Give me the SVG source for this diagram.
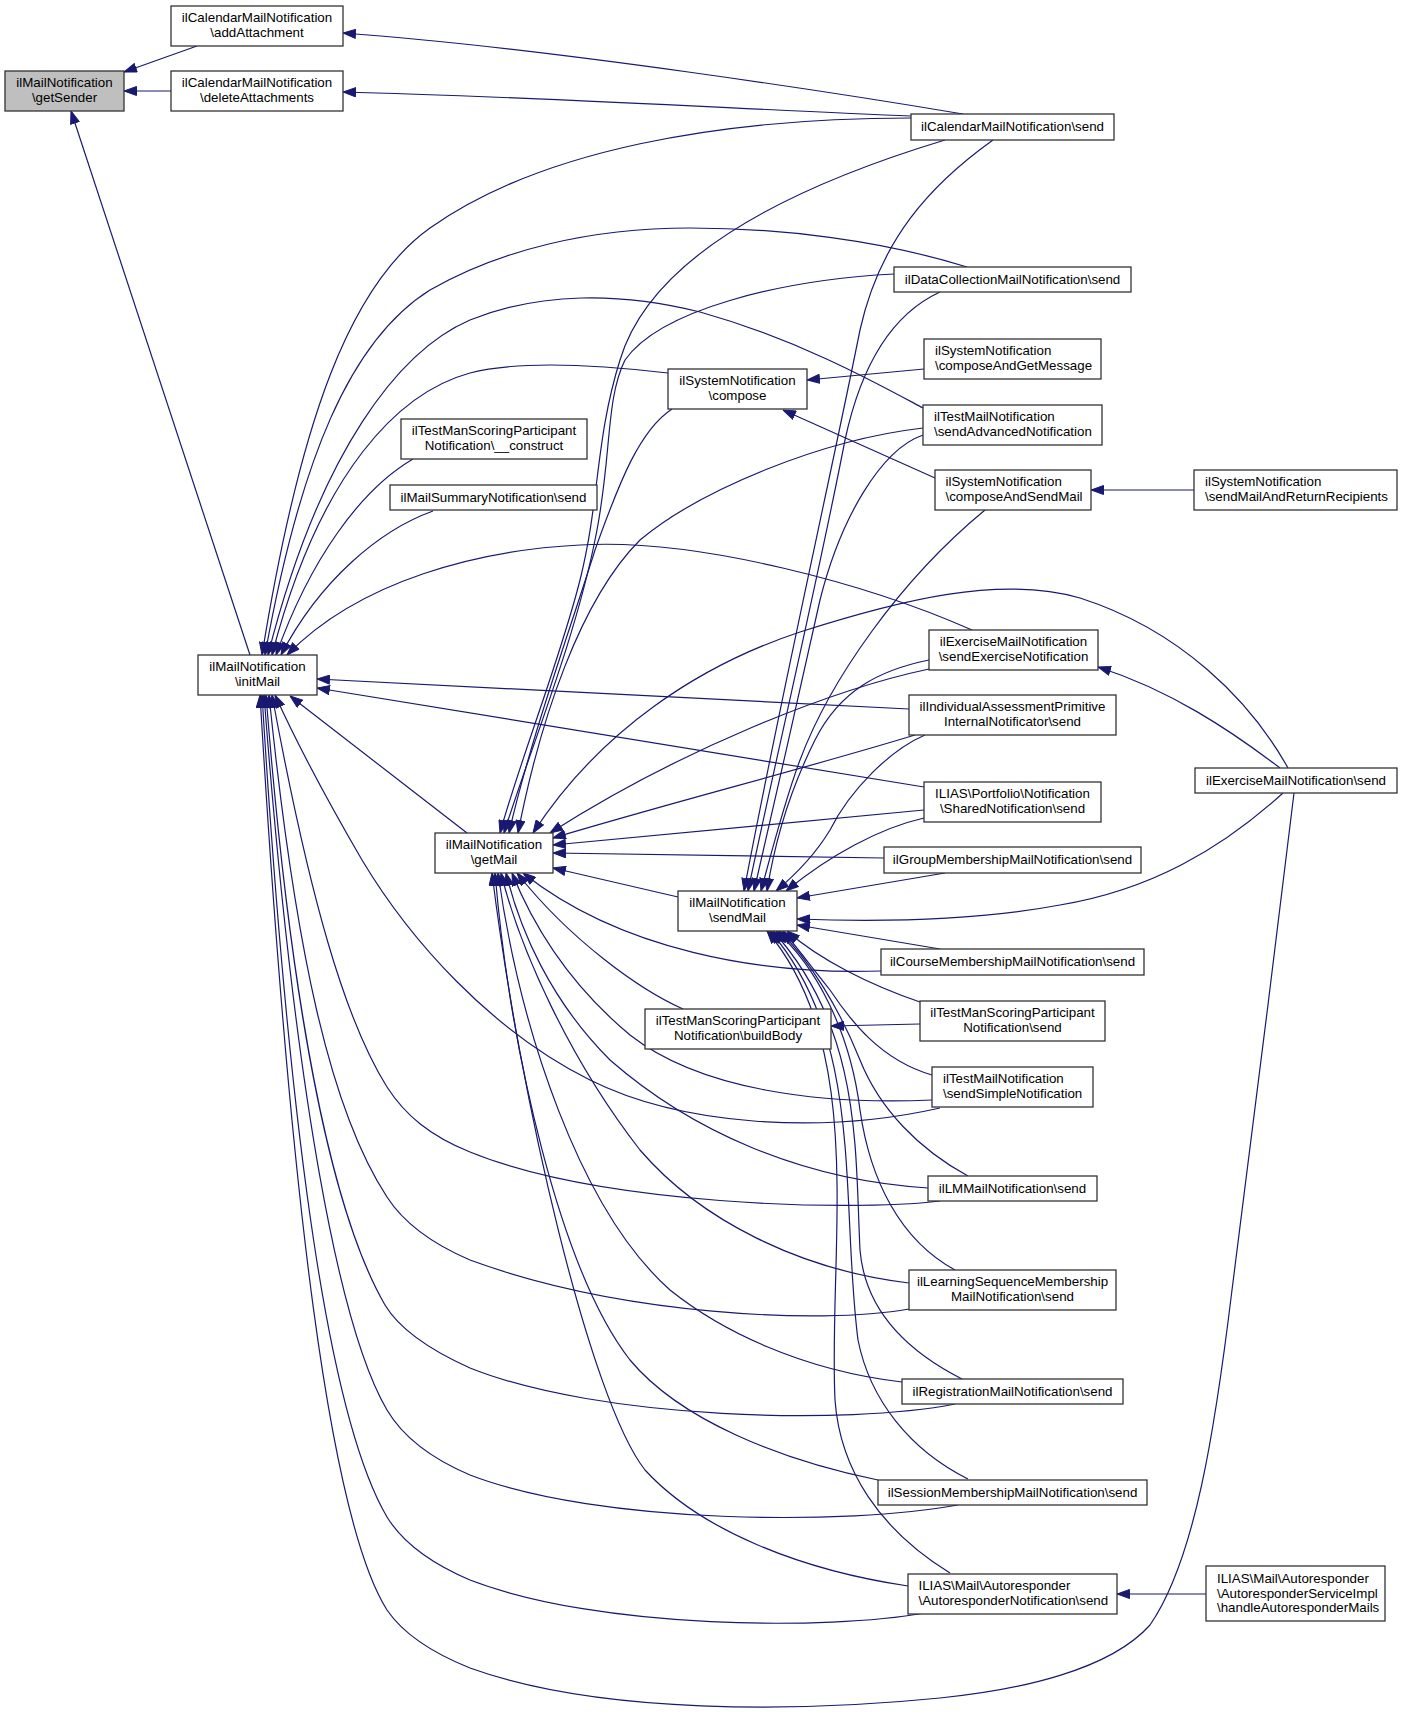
<svg xmlns="http://www.w3.org/2000/svg" width="1403" height="1716" viewBox="0 0 1403 1716">
<defs>
<style>
.n rect{fill:#fff;stroke:#333;stroke-width:1.3}
.n.g rect{fill:#bfbfbf}
text{font-family:"Liberation Sans",Arial,Helvetica,sans-serif;font-size:13.33px;fill:#000}
.m{text-anchor:middle}
.e path{fill:none;stroke:#191970;stroke-width:1.2;marker-end:url(#a)}
</style>
<marker id="a" markerWidth="13" markerHeight="10" refX="13" refY="5" orient="auto" markerUnits="userSpaceOnUse"><path d="M0.5,0.5 L13,5 L0.5,9.5 z" fill="#191970" stroke="#191970" stroke-width="1"/></marker>
</defs>
<rect width="1403" height="1716" fill="#fff"/>
<g class="e" id="edges">
<path d="M197,46 L124,72"/>
<path d="M171,91 L124,91"/>
<path d="M250,655 L71,111"/>
<path d="M963,114 C850,95 550,48 343,33"/>
<path d="M911,116 C760,110 520,96 343,92"/>
<path d="M911,118 C720,118 540,150 430,228 C350,285 300,420 262,655"/>
<path d="M967,267 C880,240 780,228 690,228 C590,228 500,250 430,290 C350,340 300,460 265,655"/>
<path d="M923,408 C880,385 800,340 700,312 C620,292 540,292 470,320 C400,350 320,450 268,655"/>
<path d="M668,373 C600,365 520,360 470,373 C400,392 320,470 272,655"/>
<path d="M413,459 C360,490 310,560 276,655"/>
<path d="M433,511 C380,530 320,580 281,655"/>
<path d="M972,630 C870,585 700,538 580,545 C480,550 360,580 287,655"/>
<path d="M909,709 L317,679"/>
<path d="M924,787 L317,688"/>
<path d="M467,833 L290,696"/>
<path d="M940,1108 C820,1135 680,1125 590,1080 C490,1030 410,940 362,860 C330,805 300,750 275,695"/>
<path d="M940,1201 C850,1212 600,1205 470,1152 C430,1136 405,1115 387,1087 C345,1020 310,900 272,695"/>
<path d="M909,1309 C820,1325 620,1315 470,1260 C435,1245 405,1225 387,1197 C330,1110 295,950 269,695"/>
<path d="M955,1404 C850,1425 600,1420 470,1368 C430,1350 400,1330 385,1305 C330,1210 290,1000 266,695"/>
<path d="M958,1505 C850,1525 600,1525 470,1475 C430,1458 403,1437 387,1410 C340,1330 295,1100 264,695"/>
<path d="M925,1613 C830,1630 600,1630 470,1580 C430,1563 403,1543 387,1517 C330,1420 290,1150 262,695"/>
<path d="M1294,793 C1275,950 1250,1150 1232,1290 C1215,1430 1195,1560 1150,1625 C1110,1670 1020,1690 940,1698 C800,1712 600,1715 470,1668 C430,1652 402,1632 387,1610 C330,1520 290,1200 260,695"/>
<path d="M945,140 C780,190 650,260 620,360 C595,440 600,500 580,580 C560,660 520,760 500,833"/>
<path d="M894,274 C780,280 660,310 625,360 C605,400 612,460 595,540 C575,640 530,750 504,833"/>
<path d="M672,409 C640,430 620,480 595,550 C570,630 530,740 509,833"/>
<path d="M923,428 C820,440 700,490 640,540 C580,600 540,720 518,833"/>
<path d="M1288,768 C1250,700 1180,630 1080,598 C1000,575 900,600 800,632 C700,665 600,730 533,833"/>
<path d="M929,669 C830,690 680,750 550,833"/>
<path d="M915,735 C800,770 680,800 553,838"/>
<path d="M924,810 L553,845"/>
<path d="M884,858 L553,853"/>
<path d="M678,897 L553,868"/>
<path d="M881,971 C760,975 620,950 523,873"/>
<path d="M683,1009 C640,990 570,940 517,873"/>
<path d="M932,1100 C820,1105 700,1090 630,1035 C570,985 535,930 512,873"/>
<path d="M928,1188 C800,1180 690,1130 610,1060 C550,1000 520,930 506,873"/>
<path d="M909,1283 C800,1270 700,1220 640,1150 C570,1060 520,950 501,873"/>
<path d="M902,1382 C800,1370 720,1330 670,1290 C580,1210 520,1030 498,873"/>
<path d="M878,1480 C780,1460 680,1420 630,1360 C560,1270 510,1050 495,873"/>
<path d="M908,1586 C800,1570 700,1530 645,1470 C590,1400 520,1100 492,873"/>
<path d="M993,140 C930,185 880,240 860,330 C830,480 780,700 744,891"/>
<path d="M940,292 C890,315 860,370 845,440 C820,570 780,740 748,891"/>
<path d="M923,435 C880,450 840,520 820,600 C800,690 775,800 754,891"/>
<path d="M985,510 C900,580 830,680 800,760 C785,800 772,850 761,891"/>
<path d="M929,660 C880,670 840,690 815,740 C790,790 775,840 767,891"/>
<path d="M925,735 C890,750 850,790 830,830 C815,855 795,875 776,891"/>
<path d="M924,818 C880,828 830,855 786,891"/>
<path d="M945,873 L797,898"/>
<path d="M1283,793 C1220,850 1150,890 1060,905 C980,920 880,922 797,919"/>
<path d="M940,949 L797,925"/>
<path d="M920,1002 C870,985 820,960 787,931"/>
<path d="M932,1075 C880,1060 850,1020 830,990 C810,965 795,945 783,931"/>
<path d="M968,1176 C920,1150 880,1110 860,1060 C840,1010 810,960 779,931"/>
<path d="M955,1270 C900,1240 870,1180 860,1110 C850,1030 815,965 776,931"/>
<path d="M962,1379 C905,1350 865,1310 860,1250 C855,1150 862,1030 773,931"/>
<path d="M968,1479 C910,1450 870,1400 858,1340 C840,1200 865,1040 770,931"/>
<path d="M950,1573 C880,1530 840,1470 835,1400 C828,1250 868,1050 767,931"/>
<path d="M924,369 L807,380"/>
<path d="M935,478 L783,410"/>
<path d="M1194,490 L1091,490"/>
<path d="M1280,768 C1230,730 1170,690 1098,667"/>
<path d="M920,1024 L831,1026"/>
<path d="M1206,1594 L1117,1594"/>
</g>
<g class="n g" id="getSender"><rect x="5" y="71" width="119" height="40"/><text class="m" x="64.5" y="86.8">ilMailNotification</text><text class="m" x="64.5" y="101.5">\getSender</text></g>
<g class="n" id="addAttachment"><rect x="171" y="6" width="172" height="40"/><text class="m" x="257" y="21.8">ilCalendarMailNotification</text><text class="m" x="257" y="36.5">\addAttachment</text></g>
<g class="n" id="deleteAttachments"><rect x="171" y="71" width="172" height="40"/><text class="m" x="257" y="86.8">ilCalendarMailNotification</text><text class="m" x="257" y="101.5">\deleteAttachments</text></g>
<g class="n" id="initMail"><rect x="198" y="655" width="119" height="40"/><text class="m" x="257.5" y="670.8">ilMailNotification</text><text class="m" x="257.5" y="685.5">\initMail</text></g>
<g class="n" id="calSend"><rect x="911" y="114" width="203" height="26"/><text class="m" x="1012.5" y="131.3">ilCalendarMailNotification\send</text></g>
<g class="n" id="dataColl"><rect x="894" y="267" width="237" height="25"/><text class="m" x="1012.5" y="283.8">ilDataCollectionMailNotification\send</text></g>
<g class="n" id="compose"><rect x="668" y="369" width="139" height="40"/><text class="m" x="737.5" y="384.8">ilSystemNotification</text><text class="m" x="737.5" y="399.5">\compose</text></g>
<g class="n" id="composeAndGetMessage"><rect x="924" y="339" width="177" height="40"/><text x="935" y="354.8">ilSystemNotification</text><text x="935" y="369.5">\composeAndGetMessage</text></g>
<g class="n" id="sendAdvanced"><rect x="923" y="405" width="179" height="40"/><text x="934" y="420.8">ilTestMailNotification</text><text x="934" y="435.5">\sendAdvancedNotification</text></g>
<g class="n" id="construct"><rect x="401" y="419" width="186" height="40"/><text class="m" x="494" y="434.8">ilTestManScoringParticipant</text><text class="m" x="494" y="449.5">Notification\__construct</text></g>
<g class="n" id="composeAndSendMail"><rect x="935" y="470" width="156" height="40"/><text x="945.5" y="485.8">ilSystemNotification</text><text x="945.5" y="500.5">\composeAndSendMail</text></g>
<g class="n" id="sendMailAndReturnRecipients"><rect x="1194" y="470" width="203" height="40"/><text x="1205" y="485.8">ilSystemNotification</text><text x="1205" y="500.5">\sendMailAndReturnRecipients</text></g>
<g class="n" id="mailSummary"><rect x="390" y="485" width="207" height="25"/><text class="m" x="493.5" y="501.8">ilMailSummaryNotification\send</text></g>
<g class="n" id="sendExercise"><rect x="929" y="630" width="169" height="40"/><text class="m" x="1013.5" y="645.8">ilExerciseMailNotification</text><text class="m" x="1013.5" y="660.5">\sendExerciseNotification</text></g>
<g class="n" id="indAssess"><rect x="909" y="695" width="207" height="40"/><text class="m" x="1012.5" y="710.8">ilIndividualAssessmentPrimitive</text><text class="m" x="1012.5" y="725.5">InternalNotificator\send</text></g>
<g class="n" id="exerciseSend"><rect x="1195" y="768" width="202" height="25"/><text class="m" x="1296" y="784.8">ilExerciseMailNotification\send</text></g>
<g class="n" id="portfolio"><rect x="924" y="782" width="177" height="40"/><text class="m" x="1012.5" y="797.8">ILIAS\Portfolio\Notification</text><text class="m" x="1012.5" y="812.5">\SharedNotification\send</text></g>
<g class="n" id="getMail"><rect x="435" y="833" width="118" height="40"/><text class="m" x="494" y="848.8">ilMailNotification</text><text class="m" x="494" y="863.5">\getMail</text></g>
<g class="n" id="groupMembership"><rect x="884" y="847" width="257" height="26"/><text class="m" x="1012.5" y="864.3">ilGroupMembershipMailNotification\send</text></g>
<g class="n" id="sendMail"><rect x="678" y="891" width="119" height="40"/><text class="m" x="737.5" y="906.8">ilMailNotification</text><text class="m" x="737.5" y="921.5">\sendMail</text></g>
<g class="n" id="courseMembership"><rect x="881" y="949" width="263" height="26"/><text class="m" x="1012.5" y="966.3">ilCourseMembershipMailNotification\send</text></g>
<g class="n" id="testManSend"><rect x="920" y="1001" width="185" height="40"/><text class="m" x="1012.5" y="1016.8">ilTestManScoringParticipant</text><text class="m" x="1012.5" y="1031.5">Notification\send</text></g>
<g class="n" id="buildBody"><rect x="645" y="1009" width="186" height="40"/><text class="m" x="738" y="1024.8">ilTestManScoringParticipant</text><text class="m" x="738" y="1039.5">Notification\buildBody</text></g>
<g class="n" id="sendSimple"><rect x="932" y="1067" width="161" height="40"/><text x="943" y="1082.8">ilTestMailNotification</text><text x="943" y="1097.5">\sendSimpleNotification</text></g>
<g class="n" id="lmSend"><rect x="928" y="1176" width="169" height="25"/><text class="m" x="1012.5" y="1192.8">ilLMMailNotification\send</text></g>
<g class="n" id="learningSeq"><rect x="909" y="1270" width="207" height="40"/><text class="m" x="1012.5" y="1285.8">ilLearningSequenceMembership</text><text class="m" x="1012.5" y="1300.5">MailNotification\send</text></g>
<g class="n" id="registration"><rect x="902" y="1379" width="221" height="25"/><text class="m" x="1012.5" y="1395.8">ilRegistrationMailNotification\send</text></g>
<g class="n" id="session"><rect x="878" y="1480" width="269" height="25"/><text class="m" x="1012.5" y="1496.8">ilSessionMembershipMailNotification\send</text></g>
<g class="n" id="autoresponder"><rect x="908" y="1574" width="209" height="40"/><text x="918.5" y="1589.8">ILIAS\Mail\Autoresponder</text><text x="918.5" y="1604.5">\AutoresponderNotification\send</text></g>
<g class="n" id="handleAutoresponderMails"><rect x="1206" y="1566" width="179" height="55"/><text x="1217" y="1582.8">ILIAS\Mail\Autoresponder</text><text x="1217" y="1597.5">\AutoresponderServiceImpl</text><text x="1217" y="1612.2">\handleAutoresponderMails</text></g>
</svg>
